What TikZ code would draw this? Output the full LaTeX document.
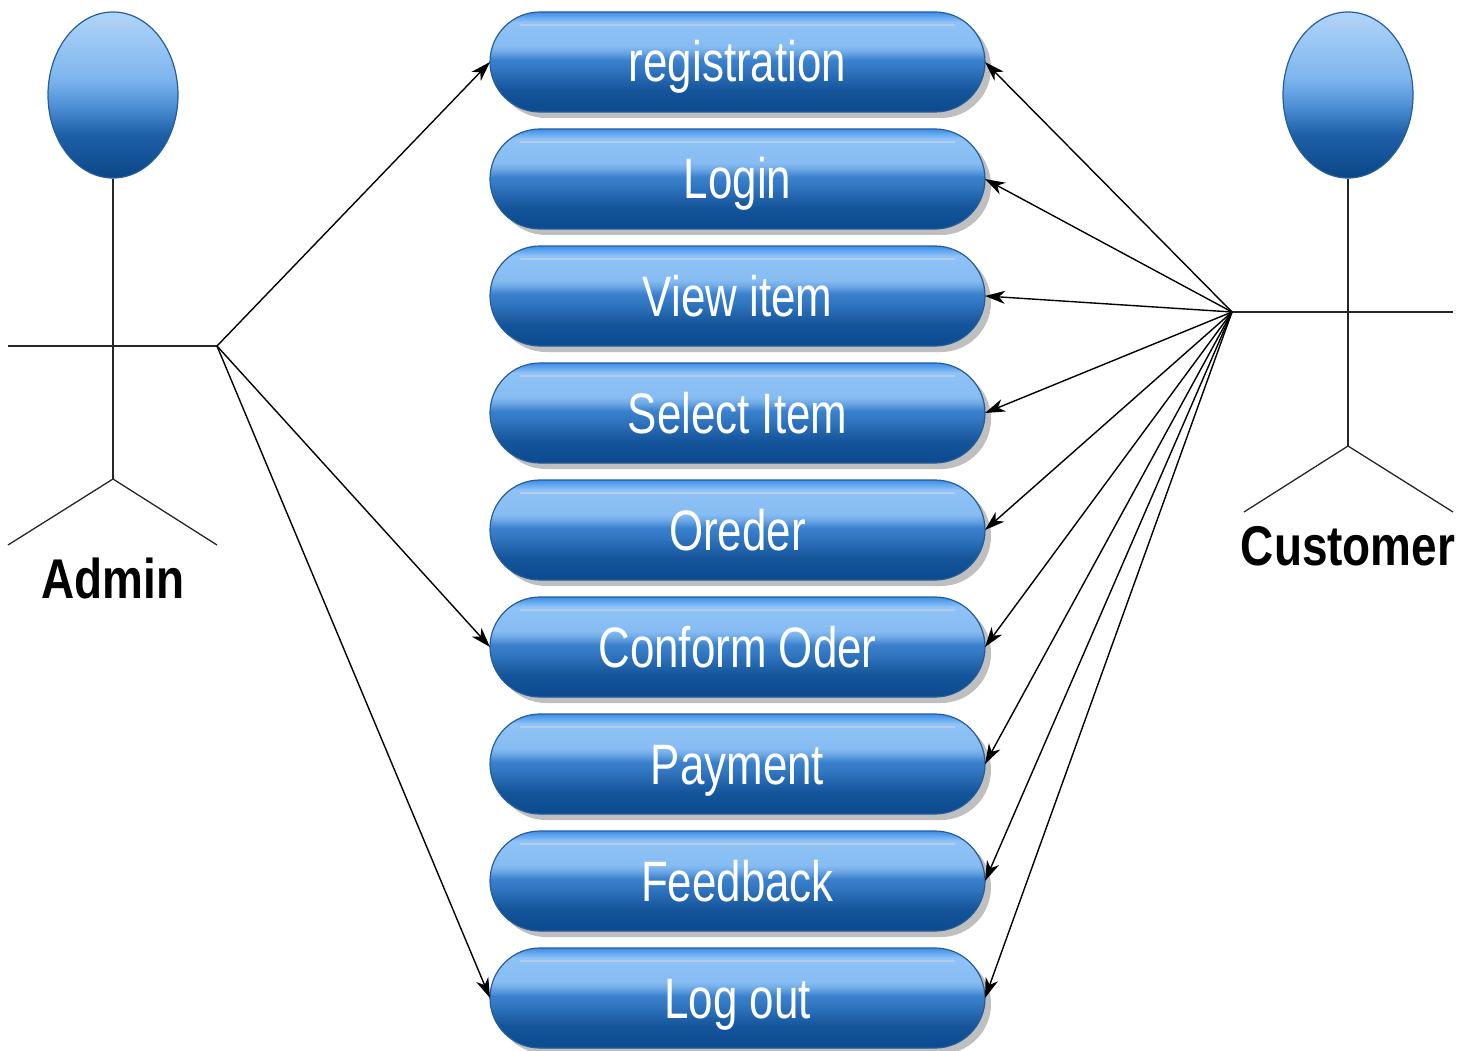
\documentclass[tikz,border=0pt]{standalone}
\usepackage{fontspec}
\newfontfamily\ucfont{Liberation Sans}[FakeStretch=0.77]
\newfontfamily\actorfont{Liberation Sans}[FakeStretch=0.82]
\usetikzlibrary{shapes,arrows.meta}
\usetikzlibrary{positioning}
\usetikzlibrary{calc}
\usetikzlibrary{shadows}

\definecolor{pdark}{HTML}{0B4A8E}
\definecolor{pmid}{HTML}{3A80CC}
\definecolor{plight}{HTML}{8FC3F7}
\definecolor{pedge}{HTML}{245D9A}
\definecolor{ptop}{HTML}{3D8EE8}
\definecolor{phi}{HTML}{B4CDE6}
\pgfdeclareverticalshading{pill}{100bp}{color(0bp)=(pdark); color(25bp)=(pdark); color(36bp)=(pdark!80!pmid); color(47bp)=(pmid!85!pdark); color(51bp)=(pmid); color(55bp)=(pmid!40!plight); color(58bp)=(plight!90!pmid); color(70bp)=(plight); color(73bp)=(ptop!60!plight); color(75bp)=(ptop); color(100bp)=(ptop)}
\pgfdeclareverticalshading{headball}{100bp}{color(0bp)=(pdark); color(25bp)=(pdark!95!black); color(38bp)=(pdark!60!pmid); color(47bp)=(pmid!75!plight); color(55bp)=(plight!80!pmid); color(75bp)=(plight!70!white); color(100bp)=(plight!70!white)}

\begin{document}
\begin{tikzpicture}[x=1pt,y=-1pt]
 \useasboundingbox (0,0) rectangle (1475,1051);
 \tikzstyle{uc} = [draw=pedge, line width=1.2pt, shading=pill, rectangle, rounded corners=50pt,
   minimum width=495pt, minimum height=100pt, inner sep=0pt, outer sep=0pt, node distance=17pt,
   text=white, font=\ucfont\fontsize{57}{60}\selectfont, text height=40pt, text depth=0pt,
   drop shadow={shadow xshift=6pt, shadow yshift=-6pt, fill=black!25, opacity=1},
   path picture={\draw[phi, line width=2.5pt] ($(path picture bounding box.north west)+(30,13)$) -- ($(path picture bounding box.north east)+(-30,13)$);}];
 \tikzstyle{head} = [draw=pedge, line width=1.2pt, ellipse, shading=headball,
   minimum width=130pt, minimum height=166pt, inner sep=0pt,
   path picture={\draw[phi, line width=2.5pt] ($(path picture bounding box.north)+(-18,13)$) -- ($(path picture bounding box.north)+(18,13)$);}];
 \tikzstyle{stick} = [color=black!85, line width=1.3pt];
 \tikzstyle{actor} = [text=black, font=\actorfont\bfseries\fontsize{56}{60}\selectfont, text height=40pt, text depth=0pt, inner sep=0pt];

 % use cases
 \node (reg) [uc] at (737.5,62) {registration};
 \node (login) [uc, below=of reg] {Login};
 \node (view) [uc, below=of login] {View item};
 \node (select) [uc, below=of view] {Select Item};
 \node (order) [uc, below=of select] {Oreder};
 \node (confirm) [uc, below=of order] {Conform Oder};
 \node (pay) [uc, below=of confirm] {Payment};
 \node (feedback) [uc, below=of pay] {Feedback};
 \node (logout) [uc, below=of feedback] {Log out};

 % admin
 \node (adminHead) [head] at (113,95) {};
 \coordinate (adminHip) at (113,479);
 \coordinate (adminHand) at (217,346);
 \draw [stick] (adminHead.south) -- (adminHip);
 \draw [stick] (8,346) -- (adminHand);
 \draw [stick] (8,545) -- (adminHip) -- (217,545);
 \node (admin) [actor] at (113,578) {Admin};

 % customer
 \node (custHead) [head] at (1348,95) {};
 \coordinate (custHip) at (1348,446);
 \coordinate (custHand) at (1232,312);
 \draw [stick] (custHead.south) -- (custHip);
 \draw [stick] (custHand) -- (1453,312);
 \draw [stick] (1244,512) -- (custHip) -- (1453,512);
 \node (customer) [actor] at (1348,545) {Customer};

 \tikzstyle{C} = [color=black, line width=1.4pt, -{Stealth[length=20pt, width=13pt, inset=6pt]}]

 \foreach \uc in {reg, confirm, logout}
  \draw [C] (adminHand) -- (\uc.west);
 \foreach \uc in {reg, login, view, select, order, confirm, pay, feedback, logout}
  \draw [C] (custHand) -- (\uc.east);
\end{tikzpicture}
\end{document}
